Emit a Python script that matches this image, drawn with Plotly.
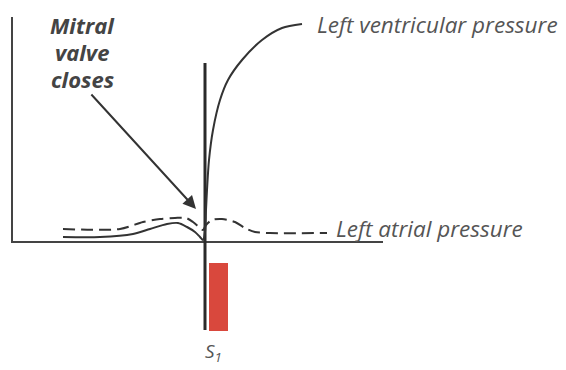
import plotly.graph_objects as go

# Time (relative to S1) and pressure, schematic units
lv_time = [-142, -105, -72, -55, -38, -27, -18, -10, -5, -2, 0, 1, 2, 4, 8, 15, 23, 37, 57, 77, 97]
lv_pressure = [5, 5, 8, 13, 18, 19, 15, 10, 5, 2, 10, 32, 52, 82, 112, 142, 162, 182, 202, 214, 218]

la_time = [-142, -85, -62, -45, -30, -19, -12, -5, -2, 1, 7, 17, 30, 40, 50, 65, 122]
la_pressure = [13, 13, 20, 23, 24, 24, 20, 14, 12, 17, 22, 23, 20, 14, 10, 9, 9]

axis_time = [-193, 178]
axis_pressure_top = 225
s1_line_range = [-88, 179]
s1_bar = {"t0": 4, "t1": 23, "p0": -89, "p1": -21}

labels = {
    "lv": "Left ventricular pressure",
    "la": "Left atrial pressure",
    "mitral": ["Mitral", "valve", "closes"],
    "s1": "<i>S<sub>1</sub></i>",
}

LINE = "#333333"
TEXT = "#555555"
RED = "#d9483d"
FONT = "Open Sans"

fig = go.Figure()

# axes
fig.add_trace(go.Scatter(x=[axis_time[0], axis_time[0], axis_time[1]],
                         y=[axis_pressure_top, 0, 0], mode="lines",
                         line=dict(color="#444444", width=2), hoverinfo="skip"))
# S1 vertical marker line
fig.add_trace(go.Scatter(x=[0, 0], y=s1_line_range, mode="lines",
                         line=dict(color="#2a2a2a", width=3), hoverinfo="skip"))
# S1 bar
fig.add_trace(go.Bar(x=[(s1_bar["t0"] + s1_bar["t1"]) / 2], y=[s1_bar["p1"] - s1_bar["p0"]],
                     base=[s1_bar["p0"]], width=[s1_bar["t1"] - s1_bar["t0"]],
                     marker=dict(color=RED, line=dict(width=0)), hoverinfo="skip"))
# curves
fig.add_trace(go.Scatter(x=lv_time, y=lv_pressure, mode="lines",
                         line=dict(color=LINE, width=2, shape="spline", smoothing=0.8),
                         hoverinfo="skip"))
fig.add_trace(go.Scatter(x=la_time, y=la_pressure, mode="lines",
                         line=dict(color=LINE, width=2, shape="spline", smoothing=0.8,
                                   dash="12px,6px"),
                         hoverinfo="skip"))

font_lbl = dict(family=FONT, size=22.5, color=TEXT)
fig.add_annotation(x=110, y=218, text="<i>" + labels["lv"] + "</i>", showarrow=False,
                   xanchor="left", yanchor="middle", font=font_lbl)
fig.add_annotation(x=129, y=14, text="<i>" + labels["la"] + "</i>", showarrow=False,
                   xanchor="left", yanchor="middle", font=font_lbl)
for i, word in enumerate(labels["mitral"]):
    fig.add_annotation(x=-123, y=217 - 27 * i, text="<b><i>" + word + "</i></b>",
                       showarrow=False, xanchor="center", yanchor="middle",
                       font=dict(family=FONT, size=22, color="#444444"))
fig.add_annotation(x=8, y=-110, text=labels["s1"], showarrow=False,
                   font=dict(family=FONT, size=19, color=TEXT))
# arrow
fig.add_annotation(x=-9, y=33, ax=-115, ay=149, axref="x", ayref="y", text="",
                   showarrow=True, arrowhead=2, arrowsize=1.3, arrowwidth=2,
                   arrowcolor=LINE)

# page body has an 8px margin: shrink figure and offset ranges to compensate
fig.update_layout(
    width=558, height=362, margin=dict(l=0, r=0, t=0, b=0),
    paper_bgcolor="white", plot_bgcolor="white", showlegend=False,
    xaxis=dict(range=[-197, 361], visible=False, fixedrange=True),
    yaxis=dict(range=[-128, 234], visible=False, fixedrange=True),
)
fig.write_html("out.html")
